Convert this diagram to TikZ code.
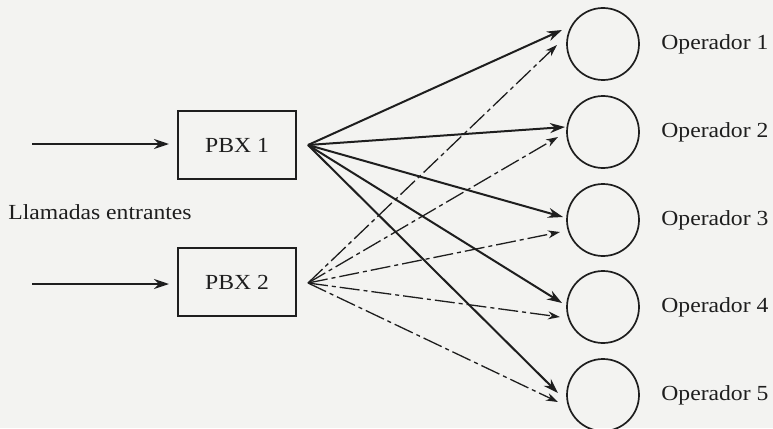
\documentclass[tikz,border=0pt]{standalone}
\usepackage{fontspec}
\setmainfont{Liberation Serif}[FakeStretch=1.1]
\usetikzlibrary{arrows.meta,calc}
\definecolor{paper}{RGB}{243,243,241}
\definecolor{ink}{RGB}{30,30,30}
\begin{document}
\begin{tikzpicture}[x=1pt,y=-1pt,
  every node/.style={font=\fontsize{21.5}{24}\selectfont, text=ink},
  pbx/.style={draw=ink, line width=2pt, minimum width=118pt, minimum height=68pt, inner sep=0pt},
  op/.style={draw=ink, circle, line width=1.7pt, minimum size=72pt, inner sep=0pt},
  inarrow/.style={draw=ink, line width=1.8pt, -{Stealth[length=15pt,width=10pt]}},
  solidarrow/.style={draw=ink, line width=2pt, -{Stealth[length=15pt,width=10pt]}},
  dasharrow/.style={draw=ink, line width=1.3pt, dash pattern=on 20pt off 4pt on 4pt off 4pt, -{Stealth[length=12pt,width=8pt]}},
  oplabel/.style={anchor=west}
]
\fill[paper] (0,0) rectangle (773,428);
\useasboundingbox (0,0) rectangle (773,428);

% switchboards
\node[pbx] (p1) at (237,145) {PBX 1};
\node[pbx] (p2) at (237,282) {PBX 2};
\node (calls) at (100,212) {Llamadas entrantes};

% incoming lines
\coordinate (in1) at (32,144);
\coordinate (in2) at (32,284);
\draw[inarrow, shorten >=8pt] (in1) -- (in1 -| p1.west);
\draw[inarrow, shorten >=8pt] (in2) -- (in2 -| p2.west);

% operators
\foreach \i/\y in {1/44,2/132,3/220,4/307,5/395}{
  \node[op] (o\i) at (603,\y) {};
  \node[oplabel] (l\i) at ($(o\i.east)+(18,0)$) {Operador \i};
}

% fan-out points
\coordinate (f1) at ($(p1.east)+(11,0)$);
\coordinate (f2) at ($(p2.east)+(11,1)$);

% arrow tips near each operator
\coordinate (s1) at ($(o1)+(-41,-14)$);
\coordinate (d1) at ($(o1)+(-46,1)$);
\coordinate (s2) at ($(o2)+(-38,-5)$);
\coordinate (d2) at ($(o2)+(-45,5)$);
\coordinate (s3) at ($(o3)+(-40,-3)$);
\coordinate (d3) at ($(o3)+(-43,12)$);
\coordinate (s4) at ($(o4)+(-41,-4)$);
\coordinate (d4) at ($(o4)+(-43,10)$);
\coordinate (s5) at ($(o5)+(-45,-2)$);
\coordinate (d5) at ($(o5)+(-45,7)$);

\foreach \i in {1,...,5}{
  \draw[dasharrow] (f2) -- (d\i);
}
\foreach \i in {1,...,5}{
  \draw[solidarrow] (f1) -- (s\i);
}
\end{tikzpicture}
\end{document}
